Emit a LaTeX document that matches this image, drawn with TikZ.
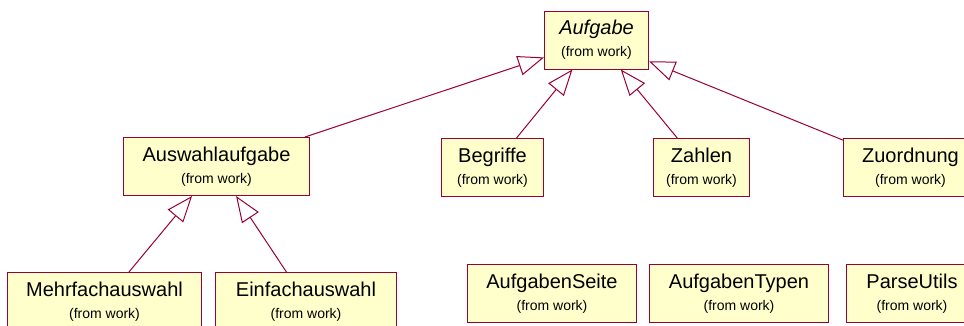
\documentclass[tikz,border=0pt]{standalone}
\usepackage{fontspec}
\setmainfont{Liberation Sans}
\usetikzlibrary{arrows.meta, positioning}
\definecolor{umlline}{RGB}{153,0,51}
\definecolor{umlfill}{RGB}{255,255,204}
\newcommand{\fromwork}{{\fontsize{14}{22}\selectfont (from work)}}
\tikzset{
    umlclass/.style={rectangle, draw=umlline, fill=umlfill, line width=1pt, align=center, inner sep=0pt, minimum height=58pt, font=\fontsize{20}{22}\selectfont},
    inherit/.style={-{Triangle[open, length=26pt, width=20pt]}, draw=umlline, line width=1pt},
}

\begin{document}
\begin{tikzpicture}[x=1pt, y=-1pt]
    \useasboundingbox (0,0) rectangle (964,325);

    % Abstract base class
    \node[umlclass, minimum width=104pt] (aufgabe) at (596.5,40) {\textit{Aufgabe}\\\fromwork};

    % Second row
    \node[umlclass, minimum width=186pt] (auswahl) at (216.5,166.5) {Auswahlaufgabe\\\fromwork};
    \node[umlclass, minimum width=102pt] (begriffe) at (492.5,167.5) {Begriffe\\\fromwork};
    \node[umlclass, minimum width=96pt] (zahlen) at (701.5,167.5) {Zahlen\\\fromwork};
    \node[umlclass, minimum width=134pt] (zuordnung) at (910.5,167.5) {Zuordnung\\\fromwork};

    % Subclasses of Auswahlaufgabe
    \node[umlclass, minimum width=194pt] (mehrfach) at (104.5,301.5) {Mehrfachauswahl\\\fromwork};
    \node[umlclass, minimum width=181pt] (einfach) at (306,301.5) {Einfachauswahl\\\fromwork};

    % Helper classes
    \node[umlclass, minimum width=169pt] (seite) at (552,293.5) {AufgabenSeite\\\fromwork};
    \node[umlclass, minimum width=179pt, right=12pt of seite] (typen) {AufgabenTypen\\\fromwork};
    \node[umlclass, minimum width=131pt, right=17pt of typen] (parse) {ParseUtils\\\fromwork};

    % Generalizations
    \draw[inherit] (auswahl) -- (aufgabe);
    \draw[inherit] (begriffe) -- (aufgabe);
    \draw[inherit] (zahlen) -- (aufgabe);
    \draw[inherit] (zuordnung) -- (aufgabe);
    \draw[inherit] (mehrfach) -- (auswahl);
    \draw[inherit] (einfach) -- (auswahl);

\end{tikzpicture}
\end{document}
